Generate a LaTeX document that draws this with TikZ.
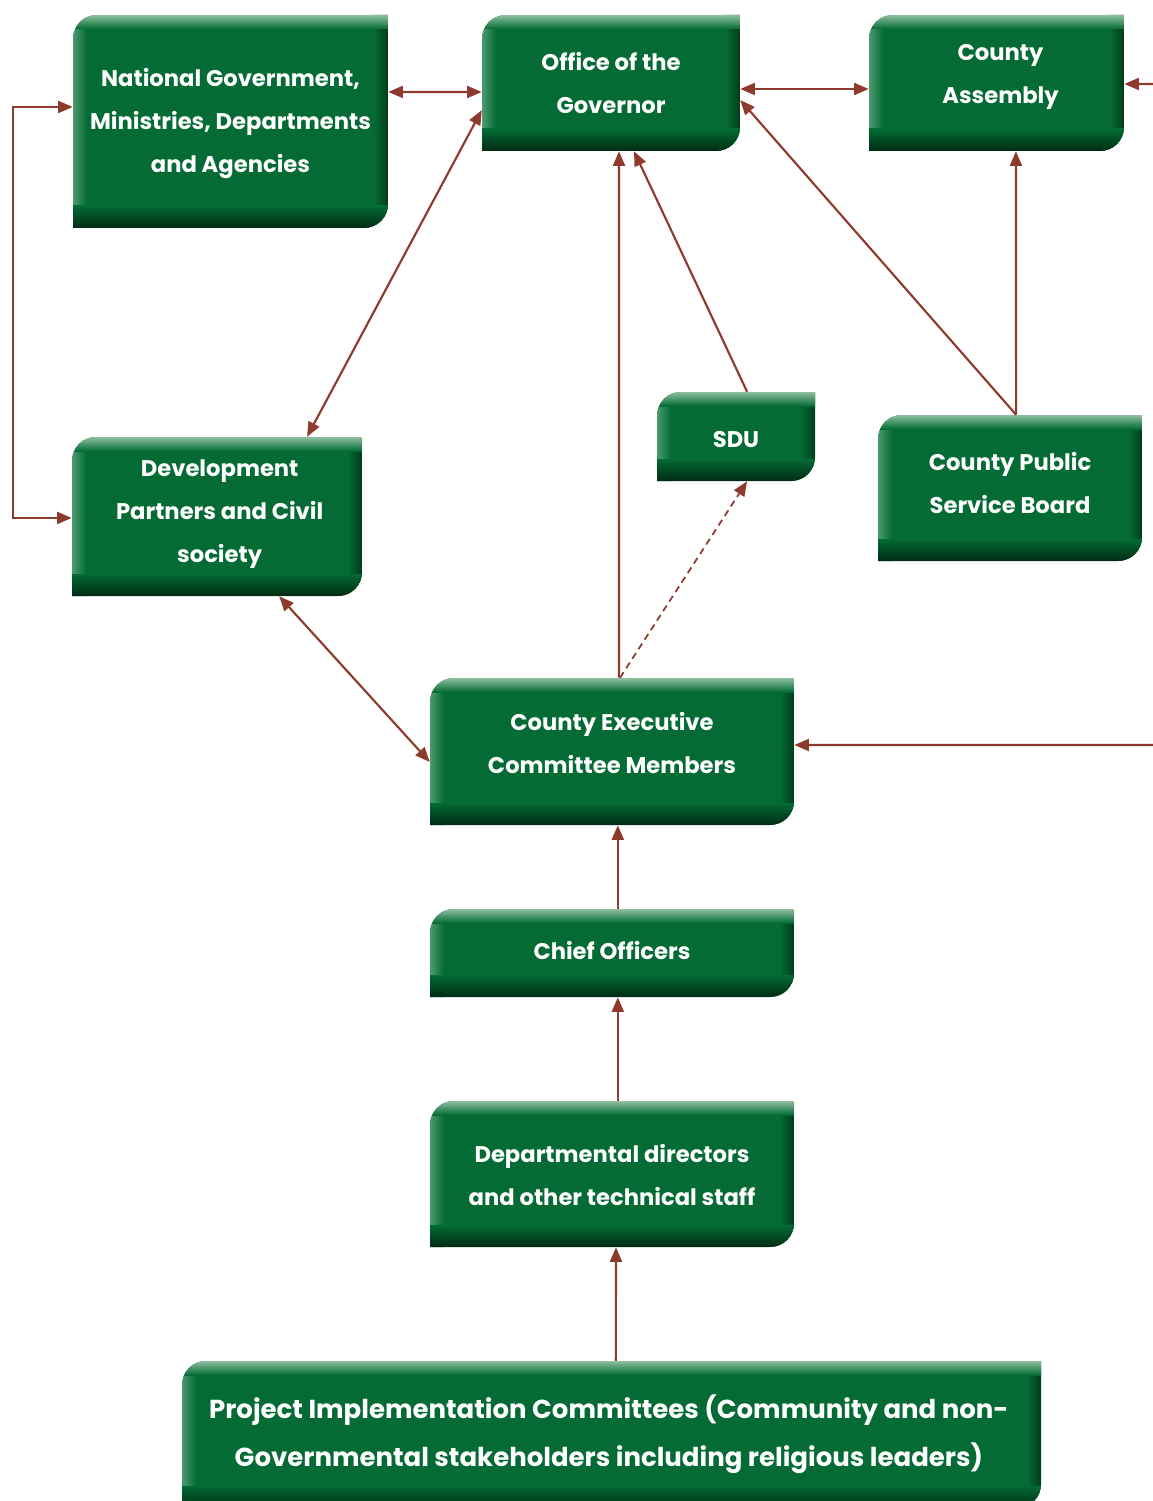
\documentclass[tikz,border=0pt]{standalone}
\usepackage{fontspec}
\setmainfont{Poppins}
\usetikzlibrary{arrows.meta,fit,calc}
\definecolor{gmain}{HTML}{036B33}
\definecolor{gtop}{HTML}{8DBF9F}
\definecolor{gleft}{HTML}{4C9A6E}
\definecolor{gright}{HTML}{003C1B}
\definecolor{gbot}{HTML}{002A14}
\definecolor{arrc}{HTML}{8E3A2C}
\newcommand\gbox[8]{%
  \begin{scope}
    \clip (#2,#5) -- (#2,#3+24) to[out=90,in=180] (#2+24,#3) -- (#4,#3) -- (#4,#5-24) to[out=-90,in=0] (#4-24,#5) -- cycle;
    \fill[gmain] (#2,#3) rectangle (#4,#5);
    \shade[left color=gleft,right color=gmain] (#2,#3) rectangle (#2+14,#5);
    \shade[left color=gmain,right color=gright] (#4-14,#3) rectangle (#4,#5);
    \shade[top color=gtop,bottom color=gmain] (#2,#3) rectangle (#4,#3+14);
    \shade[top color=gmain,bottom color=gbot] (#2,#5-22) rectangle (#4,#5);
  \end{scope}
  \coordinate (#1-nw) at (#2,#3);
  \coordinate (#1-se) at (#4,#5);
  \node[fit=(#1-nw)(#1-se),inner sep=0pt] (#1) {};
  \node[boxtext,#8] (#1-t) at ({(#2+#4)/2},#6) {#7};
}
\tikzset{
  boxtext/.style={text=white,font=\bfseries\fontsize{17}{32.25}\selectfont,align=center,inner sep=0pt},
  arr/.style={draw=arrc,line width=1.6pt,-{Triangle[length=11pt,width=9pt]}},
  arrb/.style={draw=arrc,line width=1.6pt,{Triangle[length=11pt,width=9pt]}-{Triangle[length=11pt,width=9pt]}},
}
\begin{document}
\begin{tikzpicture}[x=0.75pt,y=-0.75pt]
\useasboundingbox (0,0) rectangle (1152,1501);
\fill[white] (0,0) rectangle (1152,1501);
\gbox{nat}{73}{15}{388}{228}{124}{National Government,\\Ministries, Departments\\and Agencies}{}
\gbox{off}{482}{15}{740}{151}{83}{Office of the\\Governor}{}
\gbox{asm}{869}{15}{1124}{151}{76.5}{County\\Assembly}{xshift=3pt}
\gbox{sdu}{657}{392}{815}{481}{440}{SDU}{}
\gbox{cpsb}{878}{415}{1142}{561}{483}{County Public\\Service Board}{}
\gbox{dev}{72}{437}{362}{596}{514.5}{Development\\Partners and Civil\\society}{xshift=2pt}
\gbox{cec}{430}{678}{794}{825}{743}{County Executive\\Committee Members}{}
\gbox{chief}{430}{909}{794}{997}{951}{Chief Officers}{}
\gbox{dept}{430}{1101}{794}{1247}{1175}{Departmental directors\\and other technical staff}{}
\gbox{pic}{182}{1361}{1041}{1508}{1434}{Project Implementation Committees (Community and non-\\Governmental stakeholders including religious leaders)}{font=\bfseries\fontsize{19.5}{36}\selectfont,xshift=-2pt}

\coordinate (rin1) at (1160,84);
\coordinate (rin2) at (1160,745);

\draw[arrb] ($(nat.north east)!0.3615!(nat.south east)$) -- ($(off.north west)!0.566!(off.south west)$);
\draw[arrb] ($(off.north east)!0.544!(off.south east)$) -- ($(asm.north west)!0.544!(asm.south west)$);
\draw[arr] (rin1) -- ($(asm.north east)!0.507!(asm.south east)$);
\draw[arrb] ($(nat.north west)!0.432!(nat.south west)$) -- ++(-60,0) |- ($(dev.north west)!0.509!(dev.south west)$);
\draw[arrb] ($(off.north west)!0.699!(off.south west)$) -- ($(dev.north west)!0.81!(dev.north east)$);
\draw[arr] ($(cec.north west)!0.519!(cec.north east)$) -- ($(off.south west)!0.531!(off.south east)$);
\draw[arr] ($(sdu.north west)!0.57!(sdu.north east)$) -- ($(off.south west)!0.589!(off.south east)$);
\draw[arr,dashed,line width=1.3pt,dash pattern=on 5pt off 3.5pt] ($(cec.north west)!0.522!(cec.north east)$) -- ($(sdu.south west)!0.57!(sdu.south east)$);
\draw[arr] ($(cpsb.north west)!0.523!(cpsb.north east)$) -- ($(off.north east)!0.625!(off.south east)$);
\draw[arr] ($(cpsb.north west)!0.523!(cpsb.north east)$) -- ($(asm.south west)!0.576!(asm.south east)$);
\draw[arrb] ($(dev.south west)!0.714!(dev.south east)$) -- ($(cec.north west)!0.571!(cec.south west)$);
\draw[arr] (rin2) -- ($(cec.north east)!0.456!(cec.south east)$);
\draw[arr] ($(chief.north west)!0.516!(chief.north east)$) -- ($(cec.south west)!0.516!(cec.south east)$);
\draw[arr] ($(dept.north west)!0.516!(dept.north east)$) -- ($(chief.south west)!0.516!(chief.south east)$);
\draw[arr] ($(pic.north west)!0.505!(pic.north east)$) -- ($(dept.south west)!0.511!(dept.south east)$);
\end{tikzpicture}
\end{document}
